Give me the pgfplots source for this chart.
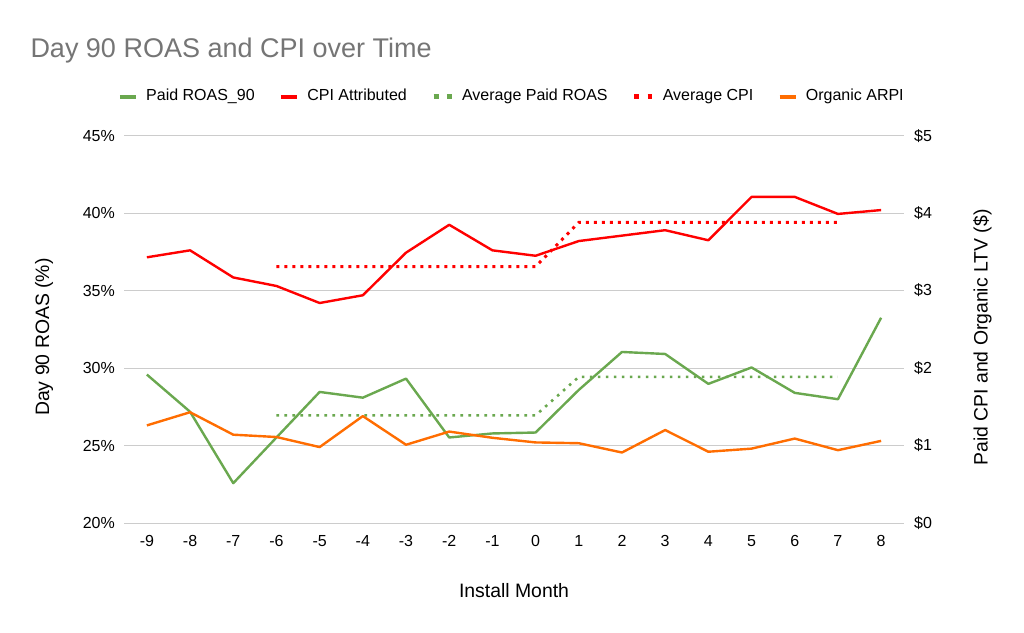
\documentclass[border=0pt]{standalone}
\usepackage{pgfplots}
\usepackage{pgfplotstable}
\pgfplotsset{compat=1.18}
\usepackage{fontspec}
\setmainfont{Liberation Sans}
\definecolor{cgreen}{HTML}{6AA84F}
\definecolor{cred}{HTML}{FF0000}
\definecolor{corange}{HTML}{FF6D01}
\definecolor{cgrid}{HTML}{CCCCCC}
\definecolor{ctitle}{HTML}{757575}

\pgfplotstableread{
x roas cpi org
-9 29.58 3.43 1.26
-8 27.18 3.52 1.43
-7 22.57 3.17 1.14
-6 25.52 3.06 1.11
-5 28.46 2.84 0.98
-4 28.09 2.94 1.38
-3 29.32 3.49 1.01
-2 25.52 3.85 1.18
-1 25.78 3.52 1.10
0 25.84 3.45 1.04
1 28.59 3.64 1.03
2 31.04 3.71 0.91
3 30.91 3.78 1.20
4 28.98 3.65 0.92
5 30.04 4.21 0.96
6 28.40 4.21 1.09
7 27.99 3.99 0.94
8 33.25 4.04 1.06
}\maindata

\pgfplotstableread{
x aroas acpi
-6 26.95 3.31
-5 26.95 3.31
-4 26.95 3.31
-3 26.95 3.31
-2 26.95 3.31
-1 26.95 3.31
0 26.95 3.31
1 29.43 3.88
2 29.43 3.88
3 29.43 3.88
4 29.43 3.88
5 29.43 3.88
6 29.43 3.88
7 29.43 3.88
}\avgdata

\pgfplotsset{
  base/.style={scale only axis, width=780bp, height=387.3bp,
    at={(124bp,110bp)}, anchor=south west,
    xmin=-9.53, xmax=8.53,
    axis line style={draw=none}, major tick length=0pt,
    tick label style={font=\fontsize{16bp}{19bp}\selectfont, text=black},
    label style={font=\fontsize{19.4bp}{23bp}\selectfont, text=black},
    clip=false},
  solidimg/.style={legend image code/.code={\draw[##1, line width=3.7bp, solid, line cap=butt] (0bp,1.5bp) -- (16.5bp,1.5bp);}},
  dotimg/.style={legend image code/.code={\draw[##1, line width=4.8bp, solid, dash pattern=on 4.8bp off 8.4bp, line cap=butt] (0bp,1.5bp) -- (18bp,1.5bp);}},
}

\begin{document}
\begin{tikzpicture}
\path[use as bounding box] (0,0) rectangle (1024bp,633bp);

\begin{axis}[base,
  ymin=20, ymax=45, ytick={20,25,30,35,40,45},
  yticklabels={20\%,25\%,30\%,35\%,40\%,45\%},
  ymajorgrids, grid style={cgrid, line width=1bp},
  xtick={-9,-8,-7,-6,-5,-4,-3,-2,-1,0,1,2,3,4,5,6,7,8},
  xticklabels={-9,-8,-7,-6,-5,-4,-3,-2,-1,0,1,2,3,4,5,6,7,8},
  xticklabel style={anchor=base, yshift=-23bp, inner sep=0pt},
  yticklabel style={anchor=east, xshift=-9bp, inner sep=0pt},
  xlabel={Install Month},
  xlabel style={at={(rel axis cs:0.5,-0.1918)}, anchor=base},
  ylabel={Day 90 ROAS (\%)},
  ylabel style={at={(rel axis cs:-0.0959,0.48)}, anchor=base, rotate=0},
]
\addplot[cgreen, line width=2.4bp, line join=round, no marks] table[x=x, y=roas] {\maindata};
\addplot[cgreen, line width=2.6bp, dash pattern=on 2.6bp off 5.4bp, no marks] table[x=x, y=aroas] {\avgdata};
\end{axis}

\begin{axis}[base,
  ymin=0, ymax=5, ytick={0,1,2,3,4,5},
  yticklabels={\$0,\$1,\$2,\$3,\$4,\$5},
  axis x line=none, axis y line*=right,
  yticklabel style={anchor=west, xshift=10bp, inner sep=0pt},
  ylabel={Paid CPI and Organic LTV (\$)},
  ylabel style={at={(rel axis cs:1.1071,0.479)}, anchor=base, rotate=0},
  legend columns=5, legend cell align=left,
  legend style={at={(rel axis cs:-0.0077,1.0965)}, anchor=west,
    draw=none, fill=none, inner sep=0pt, outer sep=0pt, column sep=0pt,
    font=\fontsize{16bp}{19bp}\selectfont,
    nodes={inner sep=0pt, text height=0.73em, text depth=0.21em},
    /tikz/every odd column/.append style={column sep=8bp},
    /tikz/every even column/.append style={column sep=24.4bp}},
]
\addlegendimage{cgreen, solidimg}
\addlegendentry{Paid ROAS\_90}
\addplot[cred, line width=2.4bp, line join=round, no marks, solidimg] table[x=x, y=cpi] {\maindata};
\addlegendentry{CPI Attributed}
\addlegendimage{cgreen, dotimg}
\addlegendentry{Average Paid ROAS}
\addplot[cred, line width=3bp, dash pattern=on 3bp off 5bp, no marks, dotimg] table[x=x, y=acpi] {\avgdata};
\addlegendentry{Average CPI}
\addplot[corange, line width=2.4bp, line join=round, no marks, solidimg] table[x=x, y=org] {\maindata};
\addlegendentry{Organic ARPI}
\end{axis}

\node[anchor=base west, inner sep=0pt, text=ctitle, font=\fontsize{27bp}{32bp}\selectfont] at (30.3bp,575.7bp) {Day 90 ROAS and CPI over Time};
\end{tikzpicture}
\end{document}
